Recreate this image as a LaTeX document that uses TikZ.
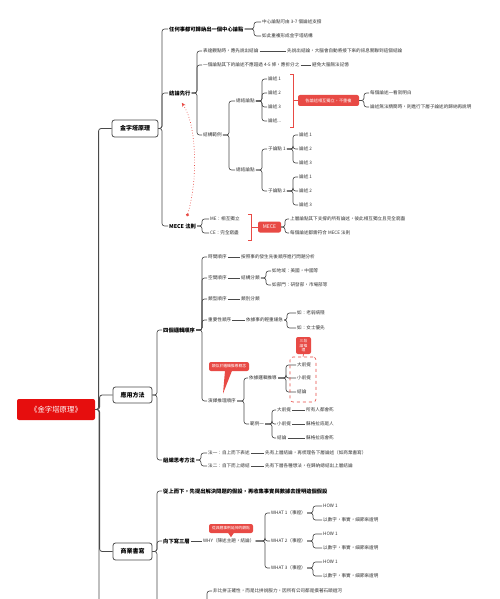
\documentclass[tikz,border=0pt]{standalone}
\usepackage{fontspec}
\setmainfont{Noto Sans CJK TC}
\usetikzlibrary{arrows.meta}
\definecolor{ln}{HTML}{4A4A4A}
\definecolor{rd}{HTML}{E84A45}
\definecolor{rootred}{HTML}{E60E0E}
\definecolor{tx}{HTML}{333333}
\tikzset{
 conn/.style={draw=ln, line width=0.65pt, rounded corners=2.5pt},
 t/.style={anchor=west, inner sep=1pt, text=tx, font=\fontsize{4.6}{5.5}\selectfont},
 tb/.style={anchor=west, inner sep=1pt, text=black, font=\bfseries\fontsize{5.3}{6}\selectfont},
 lone/.style={draw=ln, fill=white, line width=0.8pt, rounded corners=2.5pt, inner sep=0pt, font=\bfseries\fontsize{6}{7}\selectfont},
 rootbox/.style={fill=rootred, rounded corners=2pt, text=white, inner sep=0pt, minimum width=78pt, minimum height=21pt, font=\fontsize{7.4}{8}\selectfont},
 redbox/.style={fill=rd, rounded corners=2pt, text=white, inner sep=0pt, font=\fontsize{4.2}{4.8}\selectfont},
 redline/.style={draw=rd, line width=0.65pt},
}
\newcommand\mml[3][6]{\draw[conn] (#2.east) -| ([xshift=-#1pt]#3.west) -- (#3.west);}
\newcommand\mmstraight[2]{\draw[conn] (#1.east) -- (#2.west);}
\begin{document}
\begin{tikzpicture}[x=1pt,y=-1pt]
\useasboundingbox (0,0) rectangle (500,599);
\fill[white] (0,0) rectangle (500,599);
\clip (0,0) rectangle (500,599);

% root and level 1
\node[rootbox] (root) at (56,409.5) {《金字塔原理》};
\node[lone, minimum width=46pt, minimum height=17pt] (k1) at (135,128.5) {金字塔原理};
\node[lone, minimum width=39pt, minimum height=16pt] (k2) at (132.5,395) {應用方法};
\node[lone, minimum width=39pt, minimum height=17pt] (k3) at (132.5,551.5) {商業書寫};
\coordinate (k4) at (112,660);
\draw[conn, line width=0.8pt] (root.east) -| ([xshift=-13pt]k1.west) -- (k1.west);
\draw[conn, line width=0.8pt] (root.east) -| ([xshift=-13pt]k2.west) -- (k2.west);
\draw[conn, line width=0.8pt] (root.east) -| ([xshift=-13pt]k3.west) -- (k3.west);
\draw[conn, line width=0.8pt] (root.east) -| ([xshift=-13pt]k4) -- (k4);

% ===== 金字塔原理 =====
\node[tb] (a1) at (168,29) {任何事都可歸納出一個中心論點};
\node[tb] (a2) at (168,93) {結論先行};
\node[tb] (a3) at (168,226) {MECE 法則};
\mml{k1}{a1}\mml{k1}{a2}\mml{k1}{a3}

\node[t] (a1a) at (261,22) {中心論點可由 3-7 個論述支撐};
\node[t] (a1b) at (261,36) {如此重複形成金字塔結構};
\mml[7]{a1}{a1a}\mml[7]{a1}{a1b}

\node[t] (b1) at (202,51) {表達觀點時，應先說出結論};
\node[t] (b1r) at (286,51) {先說出結論，大腦會自動將接下來的訊息關聯到這個結論};
\node[t] (b2) at (202,65) {一個論點其下的論述不應超過 4-5 條，應拆分之};
\node[t] (b2r) at (311,65) {避免大腦無法記憶};
\node[t] (b3) at (202,135) {結構範例};
\mml[5]{a2}{b1}\mml[5]{a2}{b2}\mml[5]{a2}{b3}
\mmstraight{b1}{b1r}\mmstraight{b2}{b2r}

\node[t] (c1) at (235,101) {總結論點};
\node[t] (c2) at (235,170) {總結論點};
\mml{b3}{c1}\mml{b3}{c2}

\node[t] (d1) at (267,79) {論述 1};
\node[t] (d2) at (267,93) {論述 2};
\node[t] (d3) at (267,107) {論述 3};
\node[t] (d4) at (267,121) {論述...};
\mml[5]{c1}{d1}\mml[5]{c1}{d2}\mml[5]{c1}{d3}\mml[5]{c1}{d4}
\node[redbox, minimum width=61pt, minimum height=11pt] (e1) at (328.5,100.5) {各論述相互獨立，不重複};
\draw[redline] (290,74) -- (293,74) -- (293,127) -- (290,127);
\draw[redline] (293,100.5) -- (e1.west);
\node[t] (e1a) at (369,93) {每個論述一看就明白};
\node[t] (e1b) at (369,107) {論述無法精簡時，則進行下層子論述的歸納再說明};
\mml[5]{e1}{e1a}\mml[5]{e1}{e1b}

\node[t] (f1) at (267,149) {子論點 1};
\node[t] (f2) at (267,191) {子論點 2};
\mml[5]{c2}{f1}\mml[5]{c2}{f2}
\node[t] (g1) at (298,135) {論述 1};
\node[t] (g2) at (298,149) {論述 2};
\node[t] (g3) at (298,163) {論述 3};
\node[t] (g4) at (298,177) {論述 1};
\node[t] (g5) at (298,191) {論述 2};
\node[t] (g6) at (298,205) {論述 3};
\mml[5]{f1}{g1}\mml[5]{f1}{g2}\mml[5]{f1}{g3}
\mml[5]{f2}{g4}\mml[5]{f2}{g5}\mml[5]{f2}{g6}

\node[t] (m1) at (209,219) {ME：相互獨立};
\node[t] (m2) at (209,233) {CE：完全窮盡};
\mml[7]{a3}{m1}\mml[7]{a3}{m2}
\node[redbox, minimum width=23pt, minimum height=11pt, font=\fontsize{5}{6}\selectfont] (mece) at (269.5,227) {MECE};
\draw[redline] (248,214) -- (251.5,214) -- (251.5,240) -- (248,240);
\draw[redline] (251.5,227) -- (mece.west);
\node[t] (h1) at (289,219) {上層論點其下支撐的所有論述，彼此相互獨立且完全窮盡};
\node[t] (h2) at (289,233) {每個論述都需符合 MECE 法則};
\mml[4]{mece}{h1}\mml[4]{mece}{h2}

\draw[rd, dotted, line width=0.7pt, {Circle[length=3pt]}-{Stealth[length=4pt,width=3.5pt]}]
  ([xshift=4.5pt,yshift=6pt]a3.north) .. controls (198,180) and (197,125) .. ([xshift=2pt,yshift=-6pt]a2.south);

% ===== 應用方法 =====
\node[tb] (p1) at (162,330) {四個邏輯順序};
\node[tb] (p2) at (162,460) {組織思考方法};
\mml[5]{k2}{p1}\mml[5]{k2}{p2}

\node[t] (q1) at (207,257) {時間順序};
\node[t] (q1r) at (240,257) {按照事的發生先後順序進行問題分析};
\node[t] (q2) at (207,278) {空間順序};
\node[t] (q2r) at (240,278) {結構分類};
\node[t] (q2a) at (271,271) {如地域：美國，中國等};
\node[t] (q2b) at (271,285) {如部門：研發部，市場部等};
\node[t] (q3) at (207,299) {類型順序};
\node[t] (q3r) at (240,299) {類別分類};
\node[t] (q4) at (207,320) {重要性順序};
\node[t] (q4r) at (245,320) {依據事的輕重緩急};
\node[t] (q4a) at (296,313) {如：老弱病殘};
\node[t] (q4b) at (296,328) {如：女士優先};
\node[t] (q5) at (207,401) {演繹推理順序};
\mml[5]{p1}{q1}\mml[5]{p1}{q2}\mml[5]{p1}{q3}\mml[5]{p1}{q4}\mml[5]{p1}{q5}
\mmstraight{q1}{q1r}\mmstraight{q2}{q2r}\mmstraight{q3}{q3r}\mmstraight{q4}{q4r}
\mml[5]{q2r}{q2a}\mml[5]{q2r}{q2b}
\mml[9]{q4r}{q4a}\mml[9]{q4r}{q4b}

\node[t] (q5a) at (248,378) {依據邏輯推導};
\node[t] (q5b) at (249,424) {範例一};
\mml[4]{q5}{q5a}\mml[5]{q5}{q5b}
\node[t] (u1) at (296,365) {大前提};
\node[t] (u2) at (296,378) {小前提};
\node[t] (u3) at (296,392) {結論};
\mml[10]{q5a}{u1}\mml[10]{q5a}{u2}\mml[10]{q5a}{u3}
\node[draw=rd, dashed, line width=0.6pt, rounded corners=3pt, minimum width=26pt, minimum height=45pt, inner sep=0pt] (dbox) at (303,379.5) {};
\node[redbox, minimum width=15pt, minimum height=17pt, align=center, font=\fontsize{3.8}{4.5}\selectfont] (sdl) at (303.5,345.5) {三段\\論推\\理};
\draw[redline] (sdl.south) -- (dbox.north);
\node[redbox, minimum width=40pt, minimum height=9pt, font=\fontsize{3.8}{4.5}\selectfont] (co1) at (229,366.5) {類似於邏輯推導概念};
\fill[rd] ([xshift=-4pt,yshift=0.5pt]co1.south) -- ([xshift=3pt,yshift=0.5pt]co1.south) -- ([xshift=1pt,yshift=4pt]q5.north) -- cycle;

\node[t] (v1) at (276,410) {大前提};
\node[t] (v1r) at (305,410) {所有人都會死};
\node[t] (v2) at (276,424) {小前提};
\node[t] (v2r) at (305,424) {蘇格拉底是人};
\node[t] (v3) at (276,438) {結論};
\node[t] (v3r) at (305,438) {蘇格拉底會死};
\mml[4]{q5b}{v1}\mml[4]{q5b}{v2}\mml[4]{q5b}{v3}
\mmstraight{v1}{v1r}\mmstraight{v2}{v2r}\mmstraight{v3}{v3r}

\node[t] (r1) at (207,453) {法一：自上而下表述};
\node[t] (r1r) at (264,453) {先有上層結論，再梳理各下層論述（如商業書寫）};
\node[t] (r2) at (207,466) {法二：自下而上總結};
\node[t] (r2r) at (264,466) {先有下層各種想法，在歸納總結出上層結論};
\mml[6]{p2}{r1}\mml[6]{p2}{r2}
\mmstraight{r1}{r1r}\mmstraight{r2}{r2r}

% ===== 商業書寫 =====
\node[tb] (s1) at (162,491) {從上而下，先提出解決問題的假設，再收集事實與數據去證明這個假設};
\node[tb] (s2) at (162,541) {向下寫三層};
\coordinate (s3) at (162,640);
\coordinate (s3e) at (197,640);
\mml[5]{k3}{s1}\mml[5]{k3}{s2}
\draw[conn] (k3.east) -| ([xshift=-5pt]s3) -- (s3);
\node[t] (t1) at (212,591) {非比拼正確性，而是比拼說服力，因所有公司都是摸著石頭過河};
\draw[conn] (s3e) -| ([xshift=-5pt]t1.west) -- (t1.west);

\node[t] (w) at (202,541) {WHY（陳述主題，結論）};
\mmstraight{s2}{w}
\node[redbox, minimum width=44pt, minimum height=9pt, font=\fontsize{3.8}{4.5}\selectfont] (co2) at (231,528.5) {從具體事例延伸的觀點};
\fill[rd] ([xshift=-3pt,yshift=0.5pt]co2.south) -- ([xshift=3pt,yshift=0.5pt]co2.south) -- ([yshift=-4pt]co2.south) -- cycle;

\node[t] (x1) at (270,513) {WHAT 1（事證）};
\node[t] (x2) at (270,541) {WHAT 2（事證）};
\node[t] (x3) at (270,568) {WHAT 3（事證）};
\mml[5]{w}{x1}\mml[5]{w}{x2}\mml[5]{w}{x3}
\node[t] (y11) at (322,506) {HOW 1};
\node[t] (y12) at (322,520) {以數字，事實，細節來證明};
\node[t] (y21) at (322,534) {HOW 1};
\node[t] (y22) at (322,548) {以數字，事實，細節來證明};
\node[t] (y31) at (322,562) {HOW 1};
\node[t] (y32) at (322,576) {以數字，事實，細節來證明};
\mml[9]{x1}{y11}\mml[9]{x1}{y12}
\mml[9]{x2}{y21}\mml[9]{x2}{y22}
\mml[9]{x3}{y31}\mml[9]{x3}{y32}
\end{tikzpicture}
\end{document}
